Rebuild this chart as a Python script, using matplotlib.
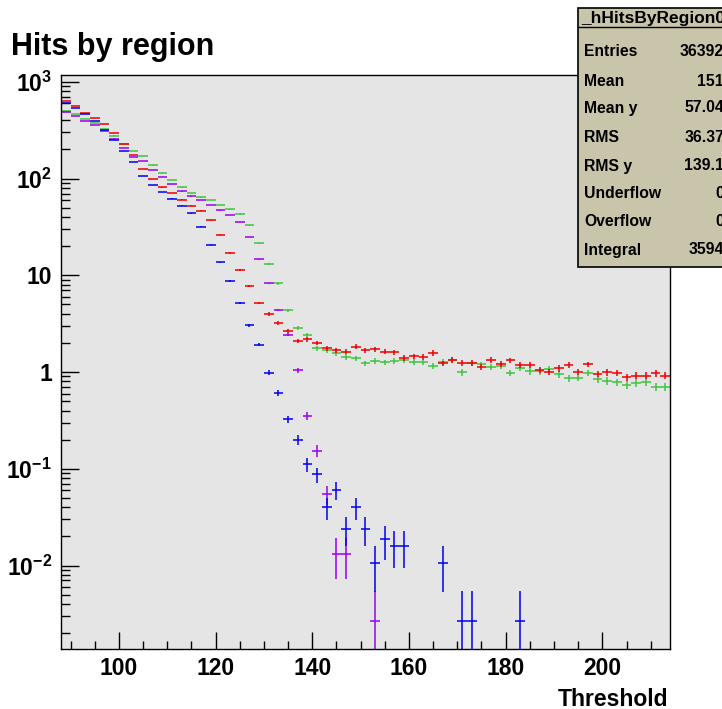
import numpy as np
import matplotlib.pyplot as plt
from matplotlib.patches import Rectangle
from matplotlib.ticker import FuncFormatter, LogLocator, MultipleLocator

plt.rcParams['font.family'] = 'Liberation Sans'
plt.rcParams['font.weight'] = 'bold'
plt.rcParams['mathtext.fontset'] = 'custom'
plt.rcParams['mathtext.rm'] = 'Liberation Sans:bold'
plt.rcParams['mathtext.bf'] = 'Liberation Sans:bold'
plt.rcParams['mathtext.it'] = 'Liberation Sans:bold'

# 63 bins of width 2, threshold 88 .. 214
threshold = np.arange(89, 214, 2)

red = [640, 567, 480, 426, 367, 298, 228, 175, 126, 99, 81.3, 71, 60.5, 52.5, 46.6, 37.3,
       26.3, 17.0, 11.4, 7.75, 5.17, 3.98, 3.21, 2.67, 2.11, 2.18, 2.00, 1.76, 1.69, 1.62,
       1.83, 1.68, 1.72, 1.62, 1.61, 1.40, 1.46, 1.44, 1.58, 1.23, 1.33, 1.25, 1.25, 1.12,
       1.33, 1.21, 1.32, 1.19, 1.19, 1.05, 1.01, 1.09, 1.18, 1.00, 1.20, 0.960, 0.993, 0.983,
       0.882, 0.916, 0.916, 0.970, 0.916]

green = [504, 466, 416, 373, 328, 278, 230, 194, 171, 137, 113, 96.8, 81.3, 71, 64.1, 60.1,
         53.3, 48.2, 43.4, 32.9, 21.4, 13.0, 8.26, 4.33, 2.87, 2.43, 1.76, 1.69, 1.56, 1.44,
         1.39, 1.23, 1.30, 1.26, 1.31, 1.32, 1.28, 1.26, 1.16, 1.27, 1.33, 0.993, 1.23, 1.20,
         1.12, 1.15, 0.983, 1.11, 1.02, 1.02, 1.07, 0.953, 0.861, 0.873, 0.983, 0.840, 0.813,
         0.782, 0.734, 0.775, 0.794, 0.705, 0.705]

blue = [601, 533, 466, 397, 318, 251, 194, 148, 107, 85.9, 72.7, 62, 52.5, 43.8, 31.8, 20.6,
        13.7, 8.73, 5.13, 3.04, 1.92, 0.988, 0.611, 0.324, 0.198, 0.111, 0.0875, 0.0399,
        0.0602, 0.0238, 0.0399, 0.0238, 0.0107, 0.0186, 0.016, 0.016, 0, 0, 0, 0.0107, 0,
        0.0027, 0.0027, 0, 0, 0, 0, 0.0027, 0, 0, 0, 0, 0, 0, 0, 0, 0, 0, 0, 0, 0, 0, 0]

purple = [488, 441, 397, 358, 308, 259, 206, 167, 151, 123, 104, 87.9, 73.9, 65.6, 60.1, 53.3,
          47, 42, 35.6, 24.9, 14.6, 8.26, 4.41, 2.43, 1.04, 0.353, 0.154, 0.0548, 0.0133,
          0.0133, 0, 0, 0.0027, 0, 0, 0, 0, 0, 0, 0, 0, 0, 0, 0, 0, 0, 0, 0, 0, 0, 0, 0, 0, 0,
          0, 0, 0, 0, 0, 0, 0, 0, 0]

stat_names = ['Entries', 'Mean', 'Mean y', 'RMS', 'RMS y', 'Underflow', 'Overflow', 'Integral']
stat_vals = ['36392', '151', '57.04', '36.37', '139.1', '0', '0', '3594']

# weight of one entry, for the poisson error bars
series = [
    (green, '#3fc43f', 0.006),
    (red, '#ee0000', 0.006),
    (purple, '#9a00f0', 0.0027),
    (blue, '#0000ee', 0.0027),
]

fig = plt.figure(figsize=(7.22, 7.09), dpi=100)
W, H = 722.0, 709.0
ax = fig.add_axes([61 / W, 1 - 649 / H, 609 / W, 574 / H])
ax.set_facecolor('#e5e5e5')

for vals, col, w in series:
    v = np.array(vals, dtype=float)
    keep = v > 0
    x = threshold[keep]
    y = v[keep]
    err = np.sqrt(y * w)
    lo = np.minimum(err, y - 1e-6)
    ax.errorbar(x, y, xerr=1.0, yerr=[lo, err], fmt='none', ecolor=col,
                elinewidth=1.1, capsize=0)

ax.set_yscale('log')
ax.set_xlim(88, 214)
ax.set_ylim(1.37e-3, 1178)

ax.xaxis.set_major_locator(MultipleLocator(20))
ax.xaxis.set_minor_locator(MultipleLocator(5))
ax.yaxis.set_major_locator(LogLocator(base=10))
ax.yaxis.set_minor_locator(LogLocator(base=10, subs=np.arange(2, 10)))


def ylab(v, pos):
    e = int(round(np.log10(v)))
    if e == 0:
        return '1'
    if e == 1:
        return '10'
    return r'$10^{%d}$' % e


ax.yaxis.set_major_formatter(FuncFormatter(ylab))
ax.tick_params(axis='both', which='both', direction='in', top=False, right=False,
               labelsize=16.5, width=1)
ax.tick_params(axis='x', which='major', length=12, pad=6)
ax.tick_params(axis='x', which='minor', length=5.8)
ax.tick_params(axis='y', which='major', length=13, pad=6.5)
ax.tick_params(axis='y', which='minor', length=6.5)
for lab in ax.get_xticklabels() + ax.get_yticklabels():
    lab.set_fontweight('bold')
for s in ax.spines.values():
    s.set_linewidth(1.0)

fig.text(668 / W, 1 - 706 / H, 'Threshold', ha='right', va='baseline',
         fontsize=16.5, fontweight='bold')
fig.text(11 / W, 1 - 55 / H, 'Hits by region', ha='left', va='baseline',
         fontsize=22, fontweight='bold')

# stats box
box = Rectangle((578 / W, 1 - 267 / H), 200 / W, 259 / H, transform=fig.transFigure,
                facecolor='#c9c5aa', edgecolor='black', linewidth=1.2, zorder=5)
fig.patches.append(box)
fig.add_artist(plt.Line2D([578 / W, 1.0], [1 - 27 / H, 1 - 27 / H],
                          transform=fig.transFigure, color='black', linewidth=1.0, zorder=6))
fig.text(581 / W, 1 - 19 / H, '_hHitsByRegion0', ha='left', va='center',
         fontsize=12.5, fontweight='bold', zorder=7)

row_y = [52, 81, 108, 138, 166, 194, 222, 250]
for name, val, yy in zip(stat_names, stat_vals, row_y):
    fig.text(584 / W, 1 - yy / H, name, ha='left', va='center', fontsize=11.3,
             fontweight='bold', zorder=7)
    fig.text(724 / W, 1 - yy / H, val, ha='right', va='center', fontsize=11.3,
             fontweight='bold', zorder=7)

plt.savefig('out.png', dpi=100)
